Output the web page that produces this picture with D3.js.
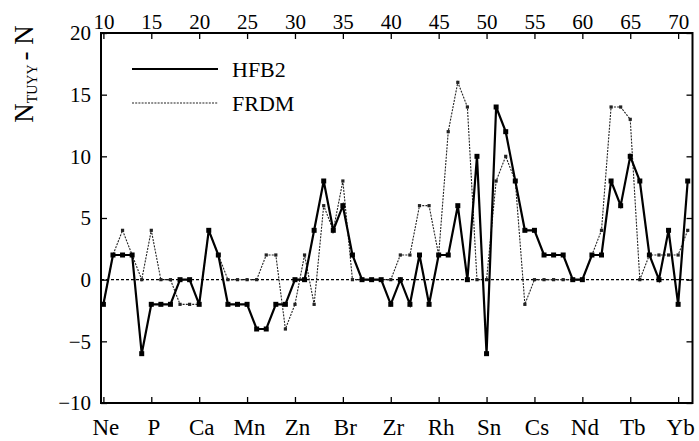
<!DOCTYPE html>
<html>
<head>
<meta charset="utf-8">
<script src="https://cdn.jsdelivr.net/npm/d3@7"></script>
<style>
  body { margin: 0; background: #fff; }
</style>
</head>
<body>
<svg id="chart" width="699" height="441"></svg>
<script>
// Proton number Z of each drip-line nucleus
const protonNumbers = d3.range(10, 72);

// N_TUYY - N for each model, Z = 10 ... 71
const hfb2 = [
  -2, 2, 2, 2, -6, -2, -2, -2, 0, 0,      // 10-19
  -2, 4, 2, -2, -2, -2, -4, -4, -2, -2,   // 20-29
  0, 0, 4, 8, 4, 6, 2, 0, 0, 0,           // 30-39
  -2, 0, -2, 2, -2, 2, 2, 6, 0, 10,       // 40-49
  -6, 14, 12, 8, 4, 4, 2, 2, 2, 0,        // 50-59
  0, 2, 2, 8, 6, 10, 8, 2, 0, 4,          // 60-69
  -2, 8                                   // 70-71
];
const frdm = [
  -2, 2, 4, 2, 0, 4, 0, 0, -2, -2,        // 10-19
  -2, 4, 2, 0, 0, 0, 0, 2, 2, -4,         // 20-29
  -2, 2, -2, 6, 4, 8, 0, 0, 0, 0,         // 30-39
  0, 2, 2, 6, 6, 2, 12, 16, 14, 0,        // 40-49
  0, 8, 10, 8, -2, 0, 0, 0, 0, 0,         // 50-59
  0, 2, 4, 14, 14, 13, 0, 2, 2, 2,        // 60-69
  2, 4                                    // 70-71
];

const zTicks = [10, 15, 20, 25, 30, 35, 40, 45, 50, 55, 60, 65, 70];
const elementLabels = ["Ne", "P", "Ca", "Mn", "Zn", "Br", "Zr", "Rh", "Sn", "Cs", "Nd", "Tb", "Yb"];
const yTicks = [-10, -5, 0, 5, 10, 15, 20];
const seriesNames = ["HFB2", "FRDM"];

const FONT = "'Liberation Serif', Tinos, 'Times New Roman', Times, 'Nimbus Roman', 'Noto Serif', 'DejaVu Serif', FreeSerif, serif";

const svg = d3.select("#chart").attr("font-family", FONT);

const plot = { left: 101, right: 692.5, top: 33, bottom: 403 };
const x = d3.scaleLinear().domain([9.75, 71.5]).range([plot.left, plot.right]);
const y = d3.scaleLinear().domain([-10, 20]).range([plot.bottom, plot.top]);

function styleAxis(g) {
  g.attr("font-family", FONT);
  g.select(".domain").remove();
  g.selectAll(".tick line").attr("stroke", "#000").attr("stroke-width", 1.3);
  g.selectAll(".tick text").attr("fill", "#000").style("font-family", FONT);
}

// Bottom axis: element symbols
svg.append("g")
  .attr("transform", `translate(0,${plot.bottom})`)
  .call(d3.axisBottom(x).tickValues(zTicks)
    .tickFormat((d, i) => elementLabels[i])
    .tickSizeInner(-6).tickSizeOuter(0).tickPadding(16))
  .call(styleAxis)
  .selectAll("text").attr("font-size", 23).attr("dx", "2");

// Top axis: proton number
svg.append("g")
  .attr("transform", `translate(0,${plot.top})`)
  .call(d3.axisTop(x).tickValues(zTicks)
    .tickSizeInner(-6).tickSizeOuter(0).tickPadding(4))
  .call(styleAxis)
  .selectAll("text").attr("font-size", 21);

// Left axis
svg.append("g")
  .attr("transform", `translate(${plot.left},0)`)
  .call(d3.axisLeft(y).tickValues(yTicks)
    .tickSizeInner(-6).tickSizeOuter(0).tickPadding(10))
  .call(styleAxis)
  .selectAll("text").attr("font-size", 21);

// Right axis (ticks only)
svg.append("g")
  .attr("transform", `translate(${plot.right},0)`)
  .call(d3.axisRight(y).tickValues(yTicks)
    .tickSizeInner(-6).tickSizeOuter(0).tickFormat(""))
  .call(styleAxis);

// Frame
svg.append("rect")
  .attr("x", plot.left).attr("y", plot.top)
  .attr("width", plot.right - plot.left).attr("height", plot.bottom - plot.top)
  .attr("fill", "none").attr("stroke", "#000").attr("stroke-width", 2);

// Zero reference line
svg.append("line")
  .attr("x1", plot.left).attr("x2", plot.right)
  .attr("y1", y(0)).attr("y2", y(0))
  .attr("stroke", "#000").attr("stroke-width", 1.2)
  .attr("stroke-dasharray", "3,2");

const line = d3.line().x(d => x(d.z)).y(d => y(d.v));
const frdmPts = protonNumbers.map((z, i) => ({ z, v: frdm[i] }));
const hfbPts = protonNumbers.map((z, i) => ({ z, v: hfb2[i] }));

// FRDM: thin dotted line, small markers
svg.append("path").datum(frdmPts)
  .attr("d", line).attr("fill", "none")
  .attr("stroke", "#222").attr("stroke-width", 1.1)
  .attr("stroke-dasharray", "2,1.2");
svg.append("g").selectAll("rect").data(frdmPts).join("rect")
  .attr("x", d => x(d.z) - 1.6).attr("y", d => y(d.v) - 1.6)
  .attr("width", 3.2).attr("height", 3.2).attr("fill", "#222");

// HFB2: thick solid line, square markers
svg.append("path").datum(hfbPts)
  .attr("d", line).attr("fill", "none")
  .attr("stroke", "#000").attr("stroke-width", 2.2)
  .attr("stroke-linejoin", "miter");
svg.append("g").selectAll("rect").data(hfbPts).join("rect")
  .attr("x", d => x(d.z) - 2.5).attr("y", d => y(d.v) - 2.5)
  .attr("width", 5).attr("height", 5).attr("fill", "#000");

// Legend
const legend = svg.append("g");
const legendRows = [
  { name: seriesNames[0], y: 69, width: 2.2, dash: null, color: "#000" },
  { name: seriesNames[1], y: 103, width: 1.1, dash: "2,1.2", color: "#222" }
];
legendRows.forEach(r => {
  legend.append("line")
    .attr("x1", 132).attr("x2", 218).attr("y1", r.y).attr("y2", r.y)
    .attr("stroke", r.color).attr("stroke-width", r.width)
    .attr("stroke-dasharray", r.dash);
  legend.append("text")
    .attr("x", 232).attr("y", r.y + 7.5)
    .style("font-family", FONT)
    .attr("font-size", 22)
    .text(r.name);
});

// Y-axis title: N_TUYY - N
const title = svg.append("text")
  .attr("transform", "translate(33,74) rotate(-90)")
  .attr("text-anchor", "middle")
  .style("font-family", FONT)
  .attr("font-size", 27);
title.append("tspan").text("N");
title.append("tspan").attr("font-size", 14).attr("dy", 4).text("TUYY");
title.append("tspan").attr("dy", -4).attr("dx", 4).text("- N");
</script>
</body>
</html>
